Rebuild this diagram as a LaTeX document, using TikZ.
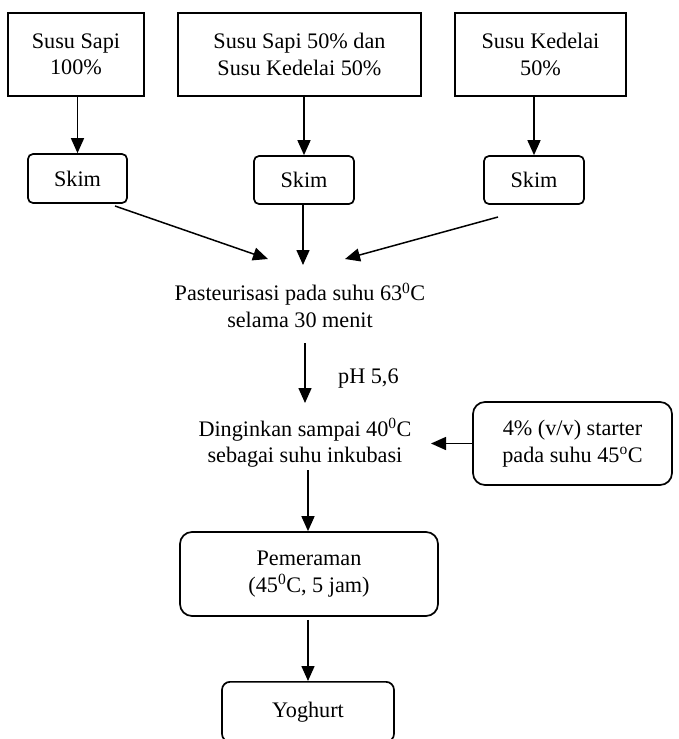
\documentclass[tikz,border=0pt]{standalone}
\usepackage{fontspec}
\setmainfont{Liberation Serif}
\usetikzlibrary{arrows.meta}
\begin{document}
\begin{tikzpicture}[x=1pt,y=-1pt,
  txt/.style={font=\fontsize{22.2}{26.5}\selectfont, align=center, inner sep=0pt},
  sqbox/.style={txt, draw, line width=1.8pt},
  rbox/.style={txt, draw, line width=1.7pt, rounded corners=#1},
  conn/.style={line width=1.5pt, -{Triangle[length=15pt,width=13pt]}}
]
\useasboundingbox (0,0) rectangle (678,739);
\clip (0,0) rectangle (678,739);
% top boxes
\node[sqbox, minimum width=136pt, minimum height=83pt] (b1) at (76,54.5) {Susu Sapi\\100\%};
\node[sqbox, minimum width=243pt, minimum height=83pt] (b2) at (299.5,54.5) {Susu Sapi 50\% dan\\Susu Kedelai 50\%};
\node[sqbox, minimum width=171pt, minimum height=83pt] (b3) at (540.5,54.5) {Susu Kedelai\\50\%};
% skim boxes
\node[rbox=5pt, minimum width=99pt, minimum height=49pt] (s1) at (77.5,178.5) {Skim};
\node[rbox=5pt, minimum width=100pt, minimum height=48pt] (s2) at (304,180) {Skim};
\node[rbox=5pt, minimum width=100pt, minimum height=48pt] (s3) at (534,180) {Skim};
\draw[conn] (s1.north |- b1.south) -- (s1.north);
\draw[conn] (s2.north |- b2.south) -- (s2.north);
\draw[conn] (s3.north |- b3.south) -- (s3.north);
% pasteurisasi
\node[txt] (past) at (300,305) {Pasteurisasi pada suhu 63\textsuperscript{0}C\\selama 30 menit};
\coordinate (l1) at (115,206);
\coordinate (l1t) at (268,259);
\coordinate (m1t) at (303,265);
\coordinate (r1) at (498,217);
\coordinate (r1t) at (345,259);
\draw[conn] (l1) -- (l1t);
\draw[conn] (s2.south -| m1t) -- (m1t);
\draw[conn] (r1) -- (r1t);
% dinginkan
\node[txt] (ding) at (305,443) {Dinginkan sampai 40\textsuperscript{0}C\\sebagai suhu inkubasi};
\coordinate (pa) at (305,343);
\coordinate (pb) at (305,403);
\draw[conn] (pa) -- (pb);
\node[txt, anchor=base west] (ph) at (338,383) {pH 5,6};
% starter
\node[rbox=12pt, minimum width=199pt, minimum height=83pt] (st) at (572.5,443.5) {4\% (v/v) starter\\pada suhu 45\textsuperscript{o}C};
\coordinate (stt) at (431,443.5);
\draw[conn] (st.west) -- (stt);
% pemeraman
\node[rbox=12pt, minimum width=258pt, minimum height=84pt] (pem) at (309,574) {Pemeraman\\(45\textsuperscript{0}C, 5 jam)};
\coordinate (da) at (308,470);
\draw[conn] (da) -- (da |- pem.north);
% yoghurt
\node[rbox=8pt, minimum width=172pt, minimum height=60pt, anchor=north] (yog) at (308,681) {Yoghurt};
\draw[conn] (yog.north |- pem.south) ++(0,3) -- (yog.north);
\end{tikzpicture}
\end{document}
